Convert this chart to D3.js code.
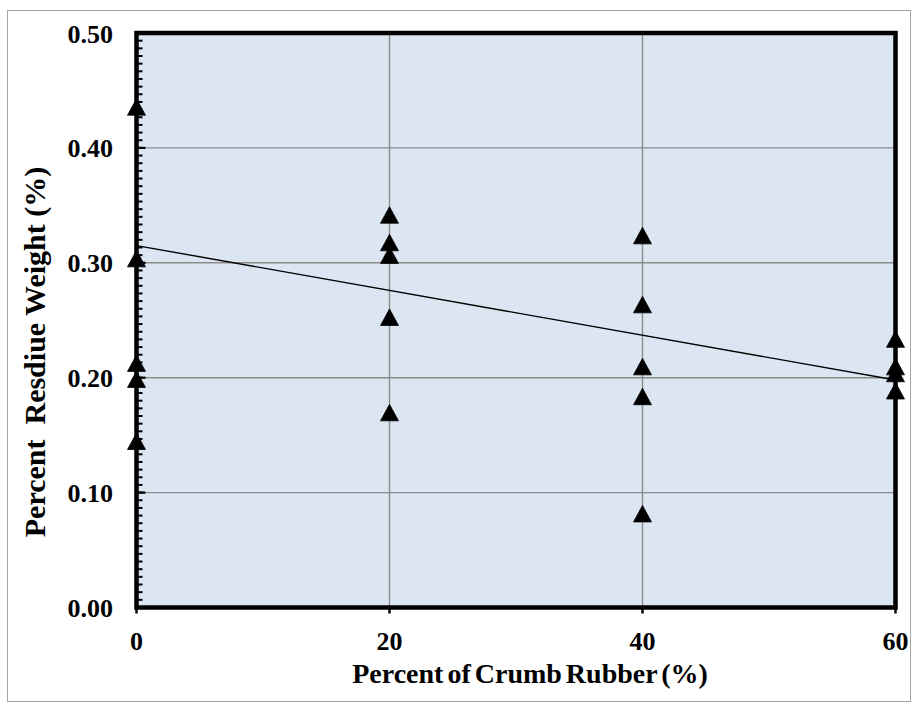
<!DOCTYPE html>
<html><head><meta charset="utf-8">
<script src="https://cdn.jsdelivr.net/npm/d3@7"></script>
<style>body{margin:0;background:#fff}svg{display:block}text{font-family:"Liberation Serif","Times New Roman",serif;font-weight:bold;fill:#000}</style>
</head><body>
<script>
// data
const crumbX = [0,0,0,0,0, 20,20,20,20,20, 40,40,40,40,40, 60,60,60,60];
const residue = [0.435,0.303,0.212,0.198,0.144, 0.341,0.317,0.306,0.252,0.169, 0.323,0.263,0.209,0.183,0.081, 0.233,0.209,0.203,0.188];
const trendX = [0, 60];
const trendY = [0.315, 0.198];
const xTicks = [0, 20, 40, 60];
const yTicks = [0, 0.1, 0.2, 0.3, 0.4, 0.5];
const yTickLabels = ["0.00","0.10","0.20","0.30","0.40","0.50"];
const xTitle = "Percent of Crumb Rubber (%)";
const yTitle = "Percent\u00a0 Resdiue Weight (%)";

const W = 918, H = 711;
const svg = d3.select("body").append("svg").attr("width", W).attr("height", H);
svg.append("rect").attr("x",7.5).attr("y",10.5).attr("width",903).attr("height",691)
  .attr("fill","#fff").attr("stroke","#a6a6a6").attr("stroke-width",1);

const x = d3.scaleLinear().domain([0,60]).range([136.5,895.5]);
const y = d3.scaleLinear().domain([0,0.5]).range([607.5,33]);

// plot background
svg.append("rect").attr("x",x(0)).attr("y",y(0.5)).attr("width",x(60)-x(0)).attr("height",y(0)-y(0.5)).attr("fill","#dce6f2");

// gridlines
const g = svg.append("g");
g.selectAll(".hg").data(yTicks.slice(1,-1)).join("line")
  .attr("x1",x(0)).attr("x2",x(60)).attr("y1",d=>y(d)).attr("y2",d=>y(d))
  .attr("stroke","#8c8c8c").attr("stroke-width",1.4);
g.selectAll(".vg").data(xTicks.slice(1,-1)).join("line")
  .attr("y1",y(0)).attr("y2",y(0.5)).attr("x1",d=>x(d)).attr("x2",d=>x(d))
  .attr("stroke","#8c8c8c").attr("stroke-width",1.4);

// minor ticks on y axis (inside)
const minor = d3.range(0, 75).map(i => i*0.5/75);
svg.selectAll(".mt").data(minor).join("line")
  .attr("x1",x(0)).attr("x2",x(0)+6).attr("y1",d=>y(d)).attr("y2",d=>y(d))
  .attr("stroke","#000").attr("stroke-width",2);
svg.selectAll(".Mt").data(yTicks).join("line")
  .attr("x1",x(0)).attr("x2",x(0)+9).attr("y1",d=>y(d)).attr("y2",d=>y(d))
  .attr("stroke","#000").attr("stroke-width",2.2);

// x ticks (outside)
svg.selectAll(".xt").data(xTicks).join("line")
  .attr("x1",d=>x(d)).attr("x2",d=>x(d)).attr("y1",y(0)).attr("y2",y(0)+6)
  .attr("stroke","#000").attr("stroke-width",2.5);

// frame
svg.append("rect").attr("x",x(0)).attr("y",y(0.5)).attr("width",x(60)-x(0)).attr("height",y(0)-y(0.5))
  .attr("fill","none").attr("stroke","#000").attr("stroke-width",4.5);

// trendline
svg.append("line").attr("x1",x(trendX[0])).attr("y1",y(trendY[0])).attr("x2",x(trendX[1])).attr("y2",y(trendY[1]))
  .attr("stroke","#000").attr("stroke-width",1.4);

// markers
const tri = "M0,-9 L9,7.5 L-9,7.5 Z";
svg.selectAll(".pt").data(residue).join("path")
  .attr("d",tri).attr("transform",(d,i)=>`translate(${x(crumbX[i])},${y(d)})`)
  .attr("fill","#000").attr("stroke","#000").attr("stroke-width",0.8).attr("stroke-linejoin","round");

// tick labels
svg.selectAll(".yl").data(yTicks).join("text")
  .attr("x",113).attr("y",d=>y(d)+9.5).attr("text-anchor","end").attr("font-size",26)
  .text((d,i)=>yTickLabels[i]);
svg.selectAll(".xl").data(xTicks).join("text")
  .attr("x",d=>x(d)).attr("y",650).attr("text-anchor","middle").attr("font-size",26)
  .text(d=>d);

// titles
svg.append("text").attr("x",530).attr("y",683).attr("text-anchor","middle").attr("font-size",28)
  .attr("word-spacing",-3).text(xTitle);
svg.append("text").attr("transform","translate(45,352) rotate(-90)").attr("text-anchor","middle").attr("font-size",30)
  .text(yTitle);
</script>
</body></html>
